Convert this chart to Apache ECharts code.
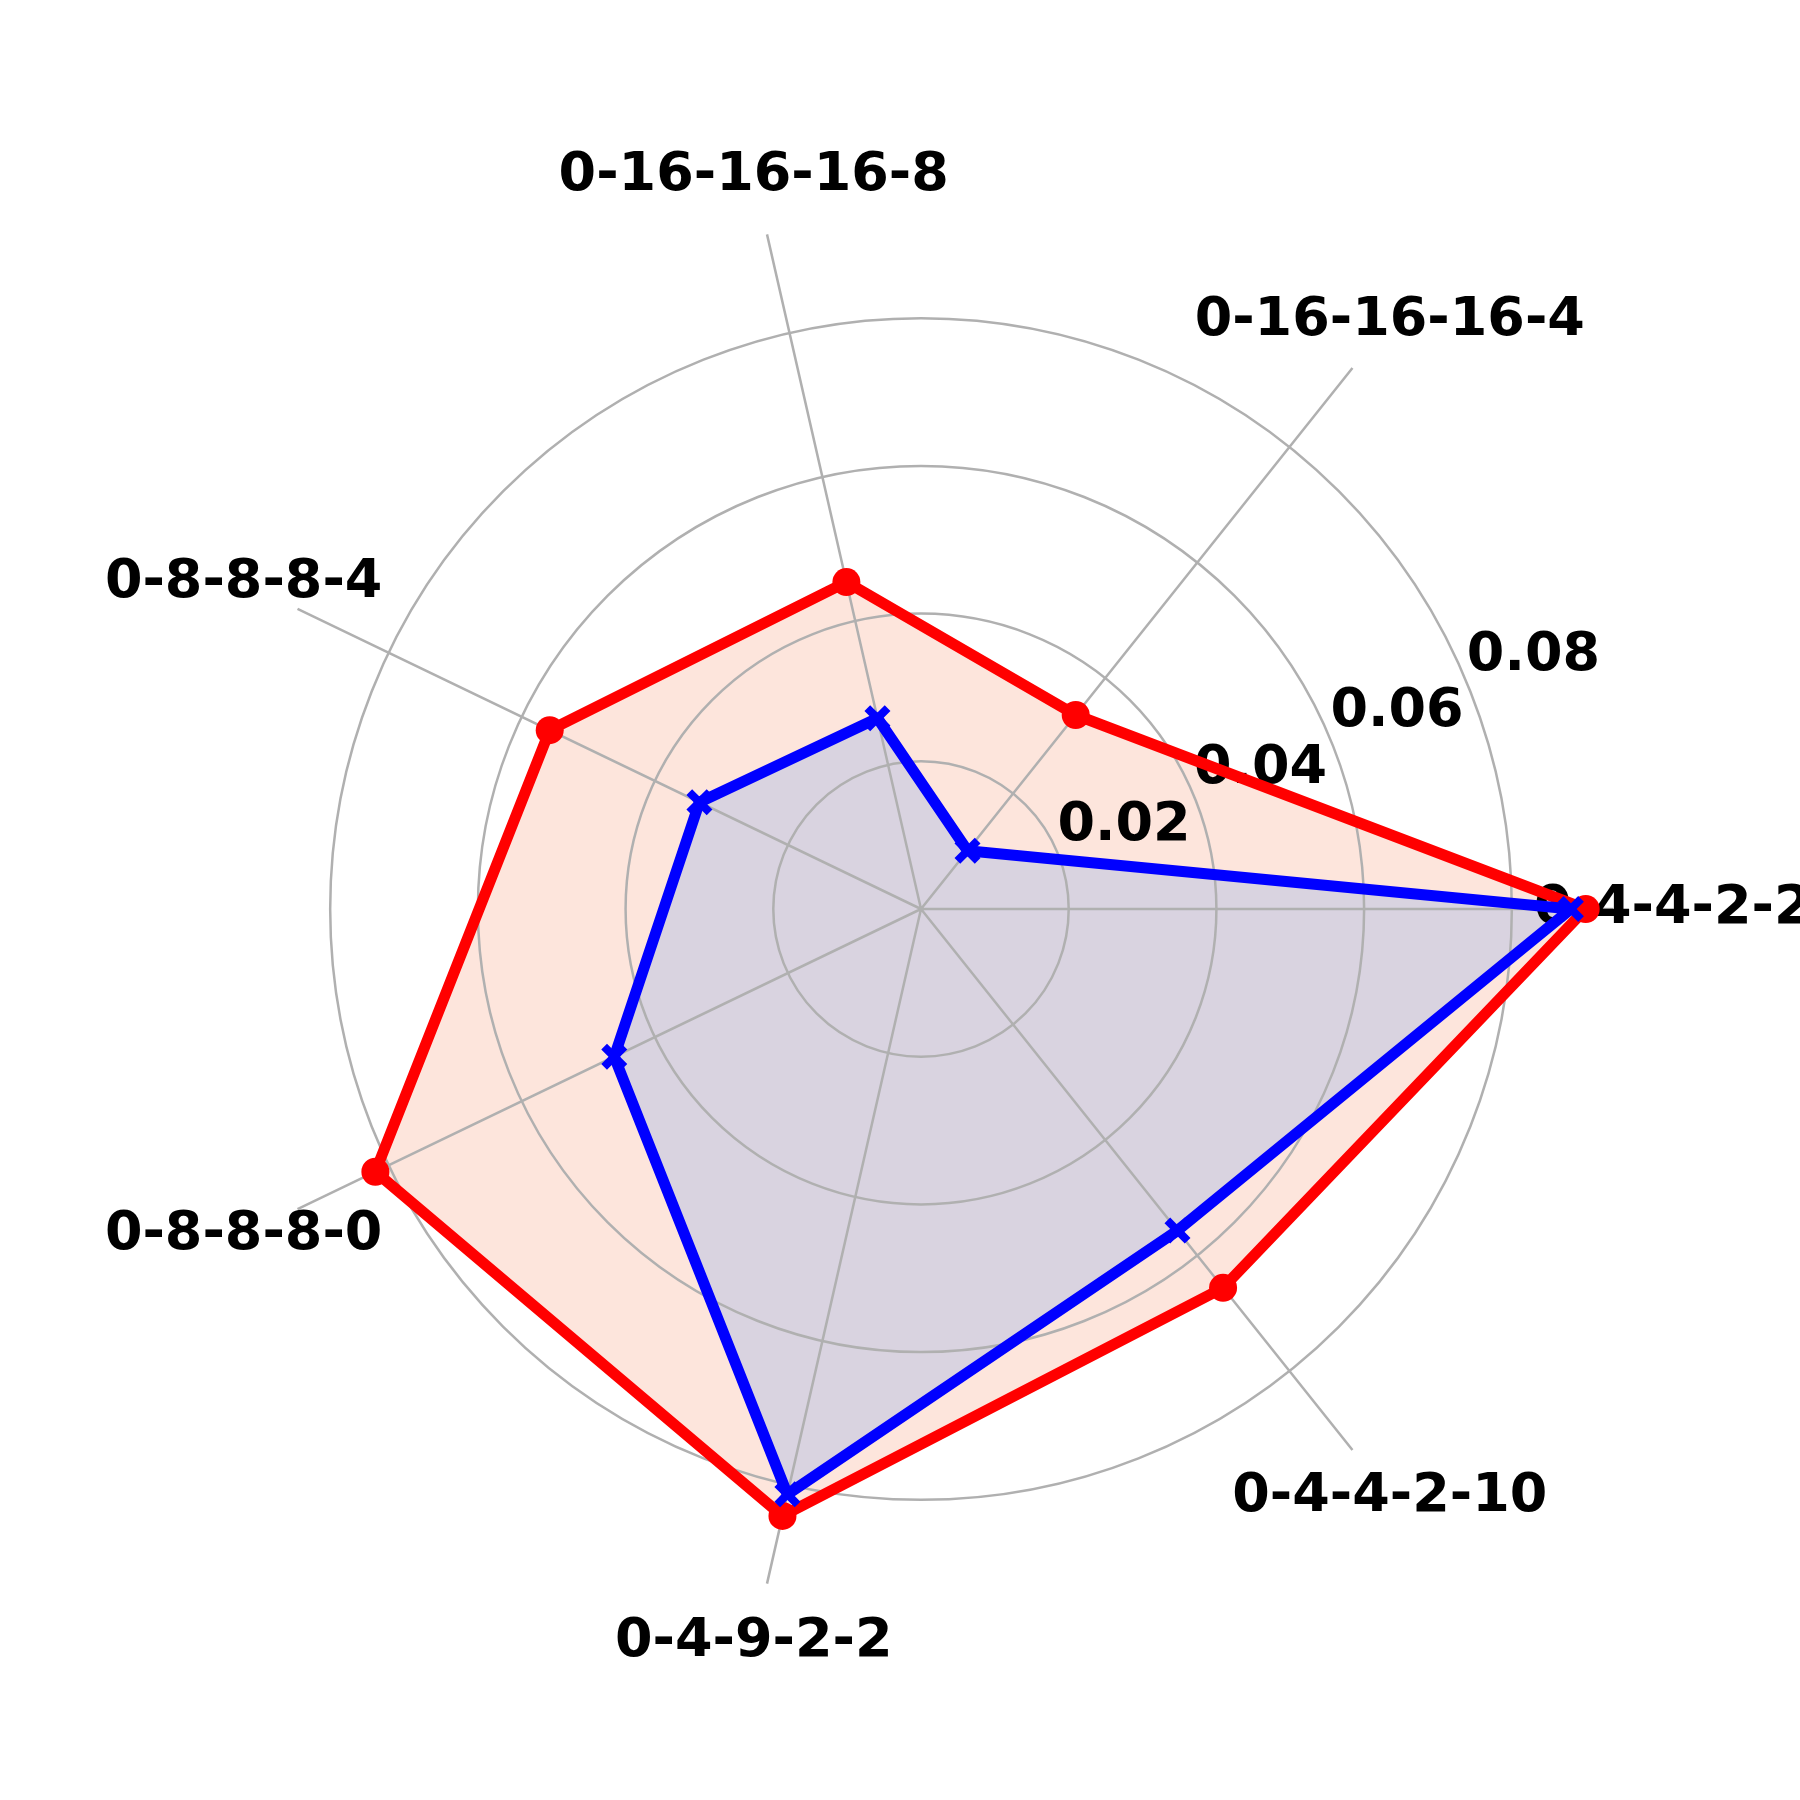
<!DOCTYPE html>
<html>
<head>
<meta charset="utf-8">
<script src="https://cdn.jsdelivr.net/npm/echarts@6/dist/echarts.min.js"></script>
<style>
  html, body { margin: 0; padding: 0; background: #ffffff; }
  #chart { width: 1800px; height: 1800px; }
</style>
</head>
<body>
<div id="chart"></div>
<script>
// ---- data ----
const categories = ['0-4-4-2-2', '0-16-16-16-4', '0-16-16-16-8', '0-8-8-8-4', '0-8-8-8-0', '0-4-9-2-2', '0-4-4-2-10'];
const redValues  = [0.0900, 0.0336, 0.0454, 0.0558, 0.0820, 0.0843, 0.0656];
const blueValues = [0.0880, 0.0101, 0.0265, 0.0333, 0.0461, 0.0813, 0.0557];
const radialTicks = [0.02, 0.04, 0.06, 0.08];
const radialTickLabels = ['0.02', '0.04', '0.06', '0.08'];

// ---- layout / style constants ----
const R_MAX = 0.0937;        // radial extent of the axes
const LABEL_R = 0.1018;      // where category names sit
const CENTER = [921, 909];
const RADIUS = 692;
const FONT = 'DejaVu Sans';
const GRID = '#b0b0b0';

// polygon (fill or outline) through the polar coordinate system
function polySeries(name, vals, z, style) {
  return {
    name: name, type: 'custom', coordinateSystem: 'polar', polarIndex: 0,
    data: vals.map((v, i) => [v, i]), z: z, silent: true, clip: false,
    renderItem: function (params, api) {
      if (params.dataIndex !== 0) return null;
      const pts = vals.map((v, i) => api.coord([v, i]));
      return { type: 'polygon', shape: { points: pts }, style: style };
    }
  };
}

function markerSeries(name, vals, z, symbol, size, color) {
  return {
    name: name, type: 'scatter', coordinateSystem: 'polar', polarIndex: 0, clip: false,
    data: vals.map((v, i) => [v, categories[i]]), z: z, silent: true,
    symbol: symbol, symbolSize: size,
    itemStyle: { color: color, opacity: 1 }
  };
}

const xSymbol = 'path://M0,2.2 L2.2,0 L5,2.8 L7.8,0 L10,2.2 L7.2,5 L10,7.8 L7.8,10 L5,7.2 L2.2,10 L0,7.8 L2.8,5 Z';

const chart = echarts.init(document.getElementById('chart'), null, { renderer: 'canvas' });

const option = {
  backgroundColor: '#ffffff',
  animation: false,
  polar: [
    { center: CENTER, radius: RADIUS },
    { center: CENTER, radius: RADIUS }
  ],
  angleAxis: [
    {
      polarIndex: 0, type: 'category', data: categories, startAngle: 0, clockwise: false,
      boundaryGap: false, z: 2,
      axisLine: { show: false },
      axisTick: { show: false, interval: 0 },
      axisLabel: { show: false, interval: 0 },
      splitLine: { show: true, interval: 0, lineStyle: { color: GRID, width: 2.5 } }
    },
    {
      polarIndex: 1, type: 'value', min: 0, max: 360, startAngle: 22.5, clockwise: false, z: 2,
      axisLine: { show: false }, axisTick: { show: false }, axisLabel: { show: false },
      splitLine: { show: false }
    }
  ],
  radiusAxis: [
    {
      polarIndex: 0, type: 'value', min: 0, max: R_MAX, z: 2,
      axisLine: { show: false }, axisTick: { show: false }, axisLabel: { show: false },
      splitLine: { show: false }
    },
    {
      polarIndex: 1, type: 'value', min: 0, max: R_MAX, interval: 0.02, z: 2,
      axisLine: { show: false }, axisTick: { show: false },
      splitLine: {
        show: true,
        lineStyle: { color: [GRID, GRID, GRID, GRID, GRID, 'rgba(0,0,0,0)'], width: 2.5 }
      },
      axisLabel: {
        show: true, margin: 0, align: 'left', verticalAlign: 'bottom',
        color: '#000', fontFamily: FONT, fontWeight: 'bold', fontSize: 54,
        showMinLabel: true, showMaxLabel: true, hideOverlap: false,
        formatter: function (v) {
          const idx = radialTicks.findIndex(t => Math.abs(t - v) < 1e-9);
          return idx >= 0 ? radialTickLabels[idx] : '';
        }
      }
    }
  ],
  series: [
    polySeries('redFill', redValues, 1, { fill: 'rgba(245,125,80,0.2)', stroke: null }),
    polySeries('blueFill', blueValues, 1, { fill: 'rgba(13,109,247,0.15)', stroke: null }),
    {
      name: 'labels', type: 'scatter', coordinateSystem: 'polar', polarIndex: 0, clip: false,
      data: categories.map(c => [LABEL_R, c]), z: 2, silent: true,
      symbolSize: 1, itemStyle: { color: 'rgba(0,0,0,0)', opacity: 1 },
      label: {
        show: true, position: 'inside', offset: [0, 6], opacity: 1,
        formatter: p => p.data[1],
        color: '#000000', fontFamily: FONT, fontWeight: 'bold', fontSize: 54
      },
      labelLayout: { hideOverlap: false }
    },
    polySeries('red', redValues, 3, { fill: null, stroke: '#ff0000', lineWidth: 11, lineJoin: 'round' }),
    markerSeries('redMarkers', redValues, 3, 'circle', 28, '#ff0000'),
    polySeries('blue', blueValues, 4, { fill: null, stroke: '#0000ff', lineWidth: 11, lineJoin: 'round' }),
    markerSeries('blueMarkers', blueValues, 4, xSymbol, 26, '#0000ff')
  ]
};

chart.setOption(option);
</script>
</body>
</html>
